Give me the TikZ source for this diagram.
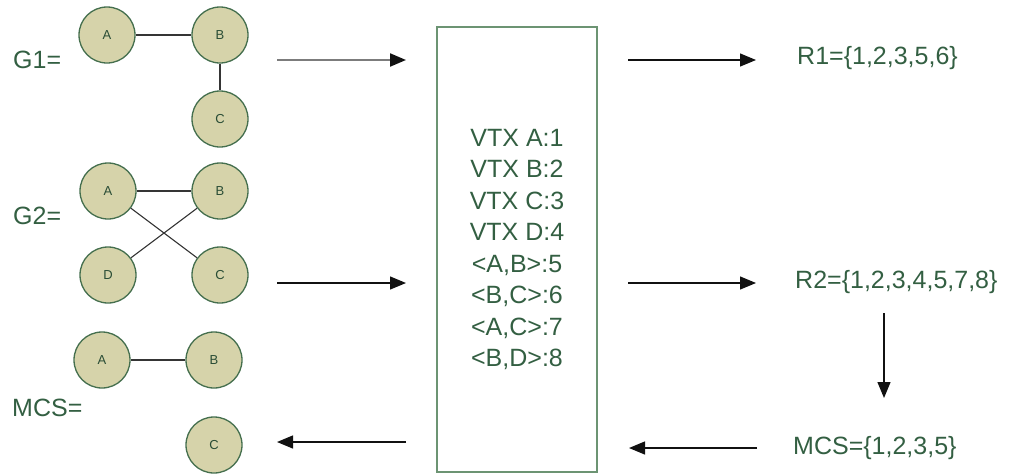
\documentclass[tikz,border=0pt]{standalone}
\usepackage{fontspec}
\setmainfont{Liberation Sans}
\usepackage{tikz}
\usetikzlibrary{arrows.meta,positioning}
\usepackage{xcolor}
\definecolor{leaf}{HTML}{335F42}
\definecolor{khaki}{HTML}{D6D3AA}
\definecolor{rim}{HTML}{456F4E}
\definecolor{frame}{HTML}{6C9473}
\definecolor{ink}{HTML}{111111}

\begin{document}
\begin{tikzpicture}[
    x=1pt, y=-1pt,
    vtx/.style={circle, draw=rim, line width=1.3pt, fill=khaki, minimum size=56pt, inner sep=0pt, font=\fontsize{13}{15}\selectfont, text=leaf!80!black},
    edge/.style={line width=1.1pt, color=ink!85},
    arrow/.style={-{Triangle[length=16pt,width=13pt,color=ink]}, line width=1.3pt, color=ink},
    lbl/.style={anchor=west, inner sep=0pt, font=\fontsize{25}{30}\selectfont, text=leaf},
    store/.style={draw=frame, line width=1.6pt, minimum width=160pt, minimum height=445pt, align=center, font=\fontsize{25}{31.5}\selectfont, text=leaf},
]
\useasboundingbox (0,0) rectangle (1015,475);

% input graph G1
\node[lbl] (g1) at (13,60) {G1=};
\node[vtx] (g1a) at (107,35) {A};
\node[vtx] (g1b) at (220,35) {B};
\node[vtx] (g1c) at (220,119) {C};
\draw[edge] (g1a) -- (g1b);
\draw[edge] (g1b) -- (g1c);

% input graph G2
\node[lbl] (g2) at (13,216) {G2=};
\node[vtx] (g2a) at (108,191) {A};
\node[vtx] (g2b) at (220,191) {B};
\node[vtx] (g2d) at (108,275) {D};
\node[vtx] (g2c) at (220,275) {C};
\draw[edge] (g2a) -- (g2b);
\draw[edge] (g2a) -- (g2c);
\draw[edge] (g2b) -- (g2d);

% result graph
\node[lbl] (mcs) at (12,408) {MCS=};
\node[vtx] (ma) at (102,360) {A};
\node[vtx] (mb) at (214,360) {B};
\node[vtx] (mc) at (214,445) {C};
\draw[edge] (ma) -- (mb);

% label table
\node[store] (tab) at (517,249.5) {VTX A:1\\VTX B:2\\VTX C:3\\VTX D:4\\<A,B>:5\\<B,C>:6\\<A,C>:7\\<B,D>:8};

% rank sets
\node[lbl] (r1) at (797,58) {R1=\{1,2,3,5,6\}};
\node[lbl] (r2) at (795,282) {R2=\{1,2,3,4,5,7,8\}};
\node[lbl] (res) at (793,448) {MCS=\{1,2,3,5\}};

\coordinate (a1) at (277,60);  \coordinate (a2) at (406,60);
\coordinate (b1) at (628,60);  \coordinate (b2) at (756,60);
\coordinate (c1) at (277,283); \coordinate (c2) at (406,283);
\coordinate (d1) at (628,283); \coordinate (d2) at (756,283);
\coordinate (e1) at (884,313); \coordinate (e2) at (884,398);
\coordinate (f1) at (757,448); \coordinate (f2) at (629,448);
\coordinate (h1) at (406,442); \coordinate (h2) at (277,442);

\draw[arrow, color=ink!55, line width=2.2pt] (a1) -- (a2);
\foreach \i/\j in {b1/b2, c1/c2, d1/d2, e1/e2, f1/f2, h1/h2} {
    \draw[arrow] (\i) -- (\j);
}

\end{tikzpicture}
\end{document}
